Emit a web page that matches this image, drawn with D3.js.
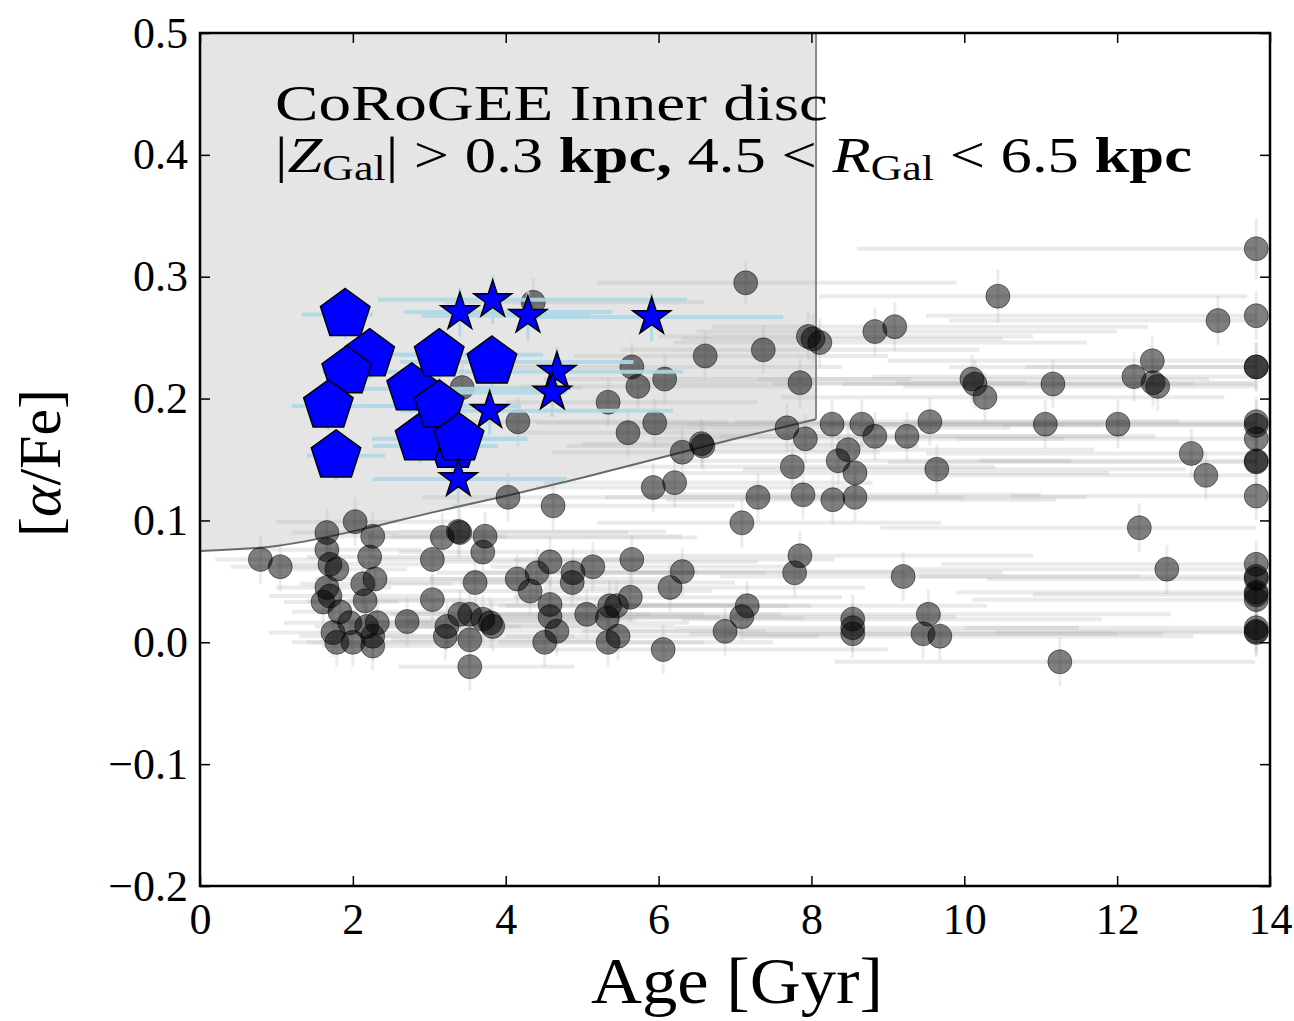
<!DOCTYPE html>
<html>
<head>
<meta charset="utf-8">
<script src="https://cdn.jsdelivr.net/npm/d3@7"></script>
<style>
  html, body { margin: 0; padding: 0; background: #fff; }
  svg { display: block; }
</style>
</head>
<body>
<svg id="chart" width="1294" height="1021"></svg>
<script>
// ---- Axis ticks -------------------------------------------------------------
const xTicks = [0, 2, 4, 6, 8, 10, 12, 14];
const yTicks = [-0.2, -0.1, 0.0, 0.1, 0.2, 0.3, 0.4, 0.5];

// ---- Boundary of the shaded high-[alpha/Fe] young region: [age, alphaFe] ----
const boundaryCurve = [
  [0, 0.075], [1, 0.079], [2, 0.091], [3, 0.106], [4, 0.120],
  [5, 0.135], [6, 0.151], [7, 0.167], [8.06, 0.183]
];
const boundaryAge = 8.06;

// ---- CoRoGEE inner-disc stars: [age, alphaFe, ageLow, ageHigh, alphaFeErr] ----
const discStars = [
  [0.79, 0.068, 0.2, 1.6, 0.02], [1.05, 0.062, 0.4, 1.9, 0.02],
  [2.03, 0.099, 1.0, 3.4, 0.02], [1.66, 0.090, 1.2, 2.6, 0.02],
  [1.66, 0.076, 0.8, 2.9, 0.02], [1.70, 0.064, 1.0, 3.2, 0.02],
  [1.79, 0.060, 1.2, 2.7, 0.02], [2.26, 0.087, 1.5, 4.0, 0.02],
  [2.22, 0.070, 1.4, 3.6, 0.02], [2.29, 0.052, 1.5, 4.5, 0.02],
  [2.13, 0.048, 1.3, 3.3, 0.02], [1.66, 0.045, 1.0, 2.5, 0.02],
  [1.70, 0.038, 0.9, 3.0, 0.02], [1.61, 0.033, 1.1, 2.6, 0.02],
  [1.83, 0.025, 1.2, 3.8, 0.02], [2.16, 0.034, 1.4, 3.5, 0.02],
  [1.96, 0.016, 1.1, 3.0, 0.02], [1.74, 0.008, 0.9, 2.8, 0.02],
  [1.79, 0.000, 1.2, 3.1, 0.02], [2.00, 0.000, 1.4, 3.3, 0.02],
  [2.18, 0.013, 1.5, 4.2, 0.02], [2.32, 0.016, 1.7, 3.9, 0.02],
  [2.26, 0.005, 1.3, 3.6, 0.02], [2.26, -0.003, 1.6, 4.4, 0.02],
  [2.71, 0.017, 1.8, 5.0, 0.02], [3.04, 0.035, 2.0, 5.3, 0.02],
  [3.04, 0.068, 2.3, 5.8, 0.02], [3.17, 0.086, 2.2, 6.5, 0.02],
  [3.40, 0.090, 2.4, 5.6, 0.02], [3.38, 0.091, 2.6, 6.1, 0.02],
  [3.73, 0.087, 2.5, 6.3, 0.02], [3.70, 0.074, 2.6, 5.5, 0.02],
  [3.60, 0.049, 2.4, 6.0, 0.02], [3.23, 0.013, 2.1, 5.2, 0.02],
  [3.21, 0.005, 2.2, 4.9, 0.02], [3.40, 0.023, 2.5, 5.9, 0.02],
  [3.53, 0.023, 2.4, 6.6, 0.02], [3.70, 0.019, 2.6, 5.7, 0.02],
  [3.83, 0.013, 2.8, 6.2, 0.02], [3.80, 0.016, 2.7, 6.4, 0.02],
  [3.53, 0.002, 2.5, 5.4, 0.02], [3.53, -0.020, 2.6, 4.9, 0.02],
  [4.16, 0.181, 3.0, 6.9, 0.02], [5.65, 0.226, 4.0, 8.4, 0.02],
  [5.73, 0.210, 4.2, 8.0, 0.02], [6.08, 0.216, 4.5, 9.3, 0.02],
  [6.61, 0.235, 4.9, 9.0, 0.02], [7.37, 0.240, 5.5, 10.2, 0.02],
  [7.96, 0.251, 6.0, 10.9, 0.02], [8.02, 0.249, 6.3, 10.5, 0.02],
  [8.11, 0.246, 6.2, 11.6, 0.02], [7.85, 0.213, 5.8, 10.8, 0.02],
  [5.34, 0.197, 4.0, 7.3, 0.02], [5.60, 0.172, 4.1, 8.2, 0.02],
  [5.95, 0.180, 4.4, 8.6, 0.02], [6.31, 0.156, 4.6, 8.9, 0.02],
  [6.58, 0.161, 4.8, 9.4, 0.02], [6.56, 0.163, 5.0, 8.7, 0.02],
  [7.68, 0.176, 5.7, 10.6, 0.02], [7.92, 0.167, 5.9, 11.3, 0.02],
  [7.75, 0.144, 5.6, 10.4, 0.02], [7.89, 0.121, 5.8, 11.0, 0.02],
  [7.30, 0.119, 5.3, 10.0, 0.02], [7.09, 0.098, 5.2, 9.7, 0.02],
  [5.93, 0.127, 4.4, 8.5, 0.02], [6.21, 0.131, 4.5, 8.8, 0.02],
  [4.03, 0.119, 2.9, 6.4, 0.02], [4.62, 0.112, 3.3, 7.0, 0.02],
  [4.58, 0.066, 3.2, 7.3, 0.02], [4.41, 0.057, 3.1, 6.5, 0.02],
  [4.15, 0.052, 3.0, 6.1, 0.02], [4.32, 0.042, 3.1, 6.7, 0.02],
  [4.88, 0.057, 3.5, 7.4, 0.02], [4.87, 0.049, 3.4, 7.0, 0.02],
  [5.14, 0.062, 3.8, 7.8, 0.02], [5.65, 0.068, 4.1, 8.3, 0.02],
  [6.31, 0.058, 4.5, 9.2, 0.02], [6.15, 0.045, 4.5, 8.7, 0.02],
  [7.85, 0.071, 5.8, 10.9, 0.02], [7.78, 0.057, 5.6, 10.5, 0.02],
  [4.58, 0.031, 3.3, 7.1, 0.02], [4.58, 0.021, 3.2, 6.8, 0.02],
  [4.67, 0.009, 3.4, 7.4, 0.02], [4.51, 0.000, 3.2, 6.6, 0.02],
  [5.06, 0.023, 3.7, 7.6, 0.02], [5.36, 0.030, 3.9, 8.0, 0.02],
  [5.45, 0.030, 4.0, 7.7, 0.02], [5.63, 0.037, 4.1, 8.4, 0.02],
  [5.33, 0.020, 3.8, 7.9, 0.02], [5.47, 0.005, 4.0, 8.1, 0.02],
  [5.34, 0.000, 3.9, 7.5, 0.02], [6.06, -0.006, 4.4, 9.0, 0.02],
  [7.16, 0.030, 5.2, 10.3, 0.02], [7.09, 0.021, 5.2, 9.9, 0.02],
  [6.87, 0.009, 5.0, 9.6, 0.02], [10.44, 0.284, 8.1, 13.7, 0.022],
  [8.83, 0.255, 6.5, 12.0, 0.02], [9.09, 0.259, 6.7, 12.4, 0.02],
  [10.10, 0.216, 7.3, 13.2, 0.02], [10.14, 0.212, 7.5, 13.0, 0.02],
  [10.27, 0.201, 7.6, 13.4, 0.02], [11.16, 0.212, 8.4, 13.8, 0.02],
  [8.27, 0.179, 6.1, 11.3, 0.02], [8.66, 0.179, 6.4, 11.8, 0.02],
  [8.83, 0.169, 6.5, 12.1, 0.02], [9.25, 0.169, 6.8, 12.5, 0.02],
  [9.55, 0.181, 7.0, 12.8, 0.02], [11.06, 0.179, 8.2, 13.8, 0.02],
  [8.48, 0.158, 6.3, 11.7, 0.02], [8.35, 0.149, 6.2, 11.4, 0.02],
  [8.57, 0.139, 6.3, 11.9, 0.02], [9.64, 0.142, 7.1, 12.9, 0.02],
  [8.28, 0.117, 6.1, 11.2, 0.02], [8.57, 0.119, 6.4, 11.6, 0.02],
  [9.20, 0.054, 6.8, 12.3, 0.02], [8.54, 0.019, 6.3, 11.8, 0.02],
  [8.54, 0.012, 6.2, 11.5, 0.02], [8.54, 0.007, 6.4, 12.0, 0.02],
  [9.53, 0.023, 7.0, 12.7, 0.02], [9.46, 0.007, 6.9, 12.6, 0.02],
  [9.68, 0.005, 7.1, 13.0, 0.02], [11.25, -0.016, 8.3, 13.8, 0.02],
  [7.14, 0.295, 5.2, 9.9, 0.018], [4.36, 0.279, 3.2, 6.6, 0.02],
  [3.43, 0.209, 2.5, 5.0, 0.02], [13.82, 0.323, 8.6, 13.82, 0.025],
  [13.82, 0.268, 9.5, 13.82, 0.02], [13.32, 0.264, 9.8, 13.82, 0.02],
  [13.82, 0.226, 9.8, 13.82, 0.02], [13.82, 0.226, 10.8, 13.82, 0.02],
  [12.46, 0.231, 9.0, 13.82, 0.02], [12.22, 0.218, 8.8, 13.82, 0.02],
  [12.47, 0.213, 9.1, 13.82, 0.02], [12.53, 0.210, 9.2, 13.82, 0.02],
  [12.01, 0.179, 8.7, 13.82, 0.02], [13.82, 0.181, 9.2, 13.82, 0.02],
  [13.82, 0.178, 10.5, 13.82, 0.02], [13.82, 0.167, 9.9, 13.82, 0.02],
  [13.82, 0.148, 9.0, 13.82, 0.02], [13.82, 0.149, 10.2, 13.82, 0.02],
  [13.82, 0.120, 10.6, 13.82, 0.02], [12.97, 0.155, 9.5, 13.82, 0.02],
  [13.16, 0.137, 9.6, 13.82, 0.02], [12.29, 0.094, 8.9, 13.82, 0.02],
  [12.65, 0.060, 9.2, 13.82, 0.02], [13.82, 0.064, 9.7, 13.82, 0.02],
  [13.82, 0.054, 9.4, 13.82, 0.02], [13.82, 0.052, 10.3, 13.82, 0.02],
  [13.82, 0.041, 9.9, 13.82, 0.02], [13.82, 0.039, 10.9, 13.82, 0.02],
  [13.82, 0.035, 10.1, 13.82, 0.02], [13.82, 0.009, 9.6, 13.82, 0.02],
  [13.82, 0.008, 10.4, 13.82, 0.02], [13.82, 0.012, 10.0, 13.82, 0.02]
];

// ---- Young alpha-rich stars (pentagons): [age, alphaFe, ageLow, ageHigh, alphaFeErr] ----
const youngAlphaRich = [
  [3.31, 0.161, 2.26, 3.90, 0.02], [2.22, 0.236, 1.85, 2.85, 0.02],
  [1.90, 0.269, 1.33, 2.26, 0.02], [1.92, 0.222, 1.60, 2.60, 0.02],
  [1.68, 0.194, 1.20, 2.60, 0.02], [1.78, 0.153, 1.40, 2.42, 0.02],
  [2.88, 0.167, 2.25, 4.28, 0.02], [2.77, 0.208, 2.00, 4.80, 0.02],
  [3.13, 0.194, 2.20, 4.20, 0.02], [3.39, 0.167, 2.62, 4.28, 0.02],
  [3.13, 0.236, 2.62, 4.49, 0.02], [3.82, 0.230, 2.62, 5.67, 0.02]
];

// ---- Other young alpha-rich stars (stars): [age, alphaFe, ageLow, ageHigh, alphaFeErr] ----
const youngAlphaRichStars = [
  [3.40, 0.271, 2.66, 5.40, 0.02], [3.83, 0.281, 2.33, 6.37, 0.02],
  [4.29, 0.268, 2.90, 5.10, 0.02], [5.91, 0.267, 4.36, 7.63, 0.02],
  [4.67, 0.222, 2.62, 6.32, 0.02], [4.61, 0.205, 2.62, 4.80, 0.02],
  [3.79, 0.190, 2.62, 6.19, 0.02], [3.38, 0.134, 2.26, 4.80, 0.02]
];

// ---- Layout -----------------------------------------------------------------
const plot = { left: 200, right: 1270, top: 33, bottom: 886 };
const serif = "'Liberation Serif', 'DejaVu Serif', serif";

const svg = d3.select("#chart");
const x = d3.scaleLinear().domain([0, 14]).range([plot.left, plot.right]);
const y = d3.scaleLinear().domain([-0.2, 0.5]).range([plot.bottom, plot.top]);

svg.append("defs").append("clipPath").attr("id", "plot-clip")
  .append("rect")
  .attr("x", plot.left).attr("y", plot.top)
  .attr("width", plot.right - plot.left).attr("height", plot.bottom - plot.top);

const inner = svg.append("g").attr("clip-path", "url(#plot-clip)");

// Shaded selection region above the boundary curve, up to the age cut
const curveGen = d3.line().x(d => x(d[0])).y(d => y(d[1])).curve(d3.curveMonotoneX);
const regionPath = curveGen(boundaryCurve) +
  `L${x(boundaryAge)},${y(0.5)}L${x(0)},${y(0.5)}Z`;
inner.append("path").attr("d", regionPath).attr("fill", "#e5e5e5");

// Error bars of the disc sample
const gBars = inner.append("g");
gBars.selectAll("line.h").data(discStars).join("line")
  .attr("class", "h")
  .attr("x1", d => x(d[2])).attr("x2", d => x(d[3]))
  .attr("y1", d => y(d[1])).attr("y2", d => y(d[1]))
  .attr("stroke", "#b4b4b4").attr("stroke-opacity", 0.28).attr("stroke-width", 4);
gBars.selectAll("line.v").data(discStars).join("line")
  .attr("class", "v")
  .attr("x1", d => x(d[0])).attr("x2", d => x(d[0]))
  .attr("y1", d => y(d[1] - d[4])).attr("y2", d => y(d[1] + d[4]))
  .attr("stroke", "#b4b4b4").attr("stroke-opacity", 0.25).attr("stroke-width", 3);

// Boundary lines
inner.append("path").attr("d", curveGen(boundaryCurve))
  .attr("fill", "none").attr("stroke", "#6a6a6a").attr("stroke-width", 2);
inner.append("line")
  .attr("x1", x(boundaryAge)).attr("x2", x(boundaryAge))
  .attr("y1", y(boundaryCurve[boundaryCurve.length - 1][1])).attr("y2", y(0.5))
  .attr("stroke", "#8a8a8a").attr("stroke-width", 2);

// Disc stars
inner.append("g").selectAll("circle").data(discStars).join("circle")
  .attr("cx", d => x(d[0])).attr("cy", d => y(d[1])).attr("r", 12)
  .attr("fill", "#000").attr("fill-opacity", 0.5)
  .attr("stroke", "#000").attr("stroke-opacity", 0.45).attr("stroke-width", 1);

// Error bars of the young alpha-rich stars
const blueSets = youngAlphaRich.concat(youngAlphaRichStars);
const gBlueBars = inner.append("g");
gBlueBars.selectAll("line.h").data(blueSets).join("line")
  .attr("class", "h")
  .attr("x1", d => x(d[2])).attr("x2", d => x(d[3]))
  .attr("y1", d => y(d[1])).attr("y2", d => y(d[1]))
  .attr("stroke", "#add8e6").attr("stroke-opacity", 0.9).attr("stroke-width", 4);
gBlueBars.selectAll("line.v").data(blueSets).join("line")
  .attr("class", "v")
  .attr("x1", d => x(d[0])).attr("x2", d => x(d[0]))
  .attr("y1", d => y(d[1] - d[4])).attr("y2", d => y(d[1] + d[4]))
  .attr("stroke", "#add8e6").attr("stroke-opacity", 0.9).attr("stroke-width", 3);

// Pentagon marker path (point up), circumradius r
function pentagon(r) {
  const pts = d3.range(5).map(i => {
    const a = -Math.PI / 2 + i * 2 * Math.PI / 5;
    return [r * Math.cos(a), r * Math.sin(a)];
  });
  return "M" + pts.map(p => p.join(",")).join("L") + "Z";
}

inner.append("g").selectAll("path").data(youngAlphaRich).join("path")
  .attr("d", pentagon(26))
  .attr("transform", d => `translate(${x(d[0])},${y(d[1])})`)
  .attr("fill", "#0000ff").attr("stroke", "#000").attr("stroke-width", 1.5)
  .attr("stroke-linejoin", "miter");

const starPath = d3.symbol().type(d3.symbolStar).size(20 * 20 / 0.8908130915292852)();
inner.append("g").selectAll("path").data(youngAlphaRichStars).join("path")
  .attr("d", starPath)
  .attr("transform", d => `translate(${x(d[0])},${y(d[1])})`)
  .attr("fill", "#0000ff").attr("stroke", "#000").attr("stroke-width", 1.5);

// ---- Axes -------------------------------------------------------------------
const fmtY = d => (d < 0 ? "\u2212" : "") + Math.abs(d).toFixed(1);

function styleAxis(g) {
  g.select(".domain").remove();
  g.selectAll(".tick line").attr("stroke", "#000").attr("stroke-width", 1.5);
  g.selectAll(".tick text")
    .attr("font-family", serif).attr("font-size", 44).attr("fill", "#000");
}

svg.append("g").attr("transform", `translate(0,${plot.bottom})`)
  .call(d3.axisBottom(x).tickValues(xTicks).tickSizeInner(-10).tickSizeOuter(0)
    .tickPadding(17).tickFormat(d3.format("d")))
  .call(styleAxis);
svg.append("g").attr("transform", `translate(0,${plot.top})`)
  .call(d3.axisTop(x).tickValues(xTicks).tickSizeInner(-10).tickSizeOuter(0)
    .tickFormat(() => ""))
  .call(styleAxis);
svg.append("g").attr("transform", `translate(${plot.left},0)`)
  .call(d3.axisLeft(y).tickValues(yTicks).tickSizeInner(-10).tickSizeOuter(0)
    .tickPadding(12).tickFormat(fmtY))
  .call(styleAxis);
svg.append("g").attr("transform", `translate(${plot.right},0)`)
  .call(d3.axisRight(y).tickValues(yTicks).tickSizeInner(-10).tickSizeOuter(0)
    .tickFormat(() => ""))
  .call(styleAxis);

svg.append("rect")
  .attr("x", plot.left).attr("y", plot.top)
  .attr("width", plot.right - plot.left).attr("height", plot.bottom - plot.top)
  .attr("fill", "none").attr("stroke", "#000").attr("stroke-width", 2.5);

// ---- Axis titles ------------------------------------------------------------
svg.append("text")
  .attr("x", 737).attr("y", 1003)
  .attr("text-anchor", "middle")
  .attr("font-family", serif).attr("font-size", 66)
  .attr("textLength", 292).attr("lengthAdjust", "spacingAndGlyphs")
  .text("Age [Gyr]");

const yLab = svg.append("text")
  .attr("transform", "translate(60,463) rotate(-90)")
  .attr("text-anchor", "middle")
  .attr("font-family", serif).attr("font-size", 60);
yLab.append("tspan").text("[");
yLab.append("tspan").attr("font-style", "italic").text("\u03b1");
yLab.append("tspan").text("/Fe]");

// ---- Panel annotation -------------------------------------------------------
svg.append("text")
  .attr("x", 275).attr("y", 120)
  .attr("font-family", serif).attr("font-size", 50)
  .attr("textLength", 553).attr("lengthAdjust", "spacingAndGlyphs")
  .text("CoRoGEE Inner disc");

const sub = svg.append("text")
  .attr("x", 275).attr("y", 172)
  .attr("font-family", serif).attr("font-size", 50)
  .attr("textLength", 917).attr("lengthAdjust", "spacingAndGlyphs");
sub.append("tspan").text("|");
sub.append("tspan").attr("font-style", "italic").text("Z");
sub.append("tspan").attr("font-size", 35).attr("dy", 8).text("Gal");
sub.append("tspan").attr("dy", -8).text("| > 0.3 ");
sub.append("tspan").attr("font-weight", "bold").text("kpc,");
sub.append("tspan").text(" 4.5 < ");
sub.append("tspan").attr("font-style", "italic").text("R");
sub.append("tspan").attr("font-size", 35).attr("dy", 8).text("Gal");
sub.append("tspan").attr("dy", -8).text(" < 6.5 ");
sub.append("tspan").attr("font-weight", "bold").text("kpc");
</script>
</body>
</html>
